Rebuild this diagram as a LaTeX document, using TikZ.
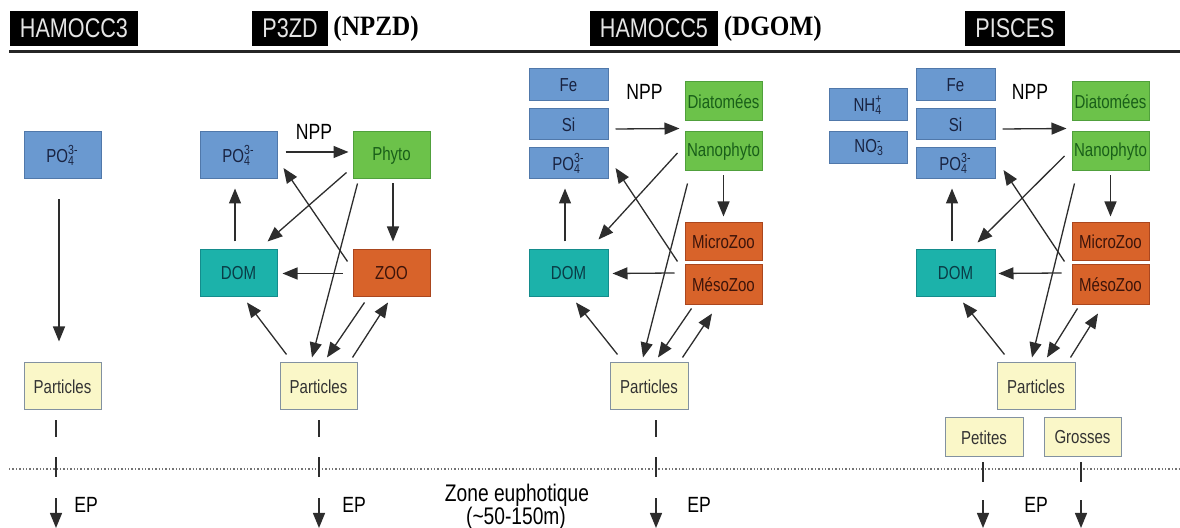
\documentclass[tikz,border=0pt]{standalone}
\usepackage{fontspec}
\setmainfont{Liberation Sans}[FakeStretch=0.8]
\newfontfamily\serifb{Liberation Serif}[FakeStretch=0.9]
\usetikzlibrary{arrows.meta,calc}
\definecolor{cblue}{RGB}{106,153,208}
\definecolor{cblueD}{RGB}{80,120,170}
\definecolor{cblueT}{RGB}{25,35,65}
\definecolor{cgreen}{RGB}{108,194,74}
\definecolor{cgreenD}{RGB}{80,160,60}
\definecolor{cgreenT}{RGB}{25,95,25}
\definecolor{cteal}{RGB}{28,178,170}
\definecolor{ctealD}{RGB}{20,140,140}
\definecolor{ctealT}{RGB}{10,60,70}
\definecolor{corange}{RGB}{216,99,42}
\definecolor{corangeD}{RGB}{170,70,30}
\definecolor{corangeT}{RGB}{60,20,10}
\definecolor{cyel}{RGB}{250,247,200}
\definecolor{cyelD}{RGB}{130,145,160}
\definecolor{carr}{RGB}{45,45,45}
\newcommand\chemss[2]{\rlap{\textsubscript{#1}}\textsuperscript{#2}}
\begin{document}
\begin{tikzpicture}[x=0.5pt,y=-0.5pt,
  sz/.style 2 args={minimum width=#1*0.5pt, minimum height=#2*0.5pt},
  box/.style={draw, line width=0.5pt, inner sep=0pt, font=\fontsize{9.4}{11}\selectfont, align=center},
  bbox/.style={box, fill=cblue, draw=cblueD, text=cblueT},
  gbox/.style={box, fill=cgreen, draw=cgreenD, text=cgreenT},
  tbox/.style={box, fill=cteal, draw=ctealD, text=ctealT},
  obox/.style={box, fill=corange, draw=corangeD, text=corangeT},
  ybox/.style={box, fill=cyel, draw=cyelD, text=black!80},
  hdr/.style={fill=black, text=white!90!black, font=\fontsize{13.5}{16}\selectfont, minimum height=17.5pt, inner xsep=5pt, inner ysep=0pt},
  hsub/.style={font=\serifb\bfseries\fontsize{14}{16}\selectfont, inner sep=0pt, anchor=west},
  lbl/.style={font=\fontsize{11}{13}\selectfont, inner sep=0pt},
  ar/.style={draw=carr, line width=0.65pt, -{Triangle[length=7.5pt,width=6pt]}},
  ln/.style={draw=carr, line width=0.65pt}
]
\useasboundingbox (0,0) rectangle (1180,528);

% headers
\node[hdr] (h1) at (74,28.5) {HAMOCC3};
\node[hdr] (h2) at (290,28.5) {P3ZD};
\node[hsub] (h2b) at ($(h2.east)+(5,0)$) {(NPZD)};
\node[hdr] (h3) at (654,28.5) {HAMOCC5};
\node[hsub] (h3b) at ($(h3.east)+(5,0)$) {(DGOM)};
\node[hdr] (h4) at (1015,28.5) {PISCES};
\coordinate (tl) at (9,52);
\coordinate (tr) at (1180,52);
\draw[line width=1.5pt, black!85] (tl) -- (tr);

% dotted line
\coordinate (dl) at (9,469);
\coordinate (dr) at (1180,469);
\draw[gray!90!black, line width=0.7pt, densely dotted] (dl) -- (dr);

% ---------- column 1 : HAMOCC3
\node[bbox, sz={77}{47}] (po1) at (62.5,155.5) {PO\chemss{4}{3-}};
\node[ybox, sz={77}{47}] (par1) at (62.5,386.5) {Particles};
\draw[ar] ($(po1.south)+(-3.5,20)$) -- ($(par1.north)+(-3.5,-21)$);

% ---------- column 2 : P3ZD
\node[bbox, sz={77}{47}] (po2) at (238.5,155.5) {PO\chemss{4}{3-}};
\node[gbox, sz={77}{47}] (phy) at (391.5,155.5) {Phyto};
\node[tbox, sz={77}{47}] (dom2) at (238.5,273.5) {DOM};
\node[obox, sz={77}{47}] (zoo) at (391.5,273.5) {ZOO};
\node[ybox, sz={77}{47}] (par2) at (318.5,386.5) {Particles};
\node[lbl] (npp2) at (314,132) {NPP};
\draw[ar] ($(po2.east)+(8,-3.5)$) -- ($(phy.west)+(-4,-3.5)$);
\draw[ar] ($(dom2.north)+(-3.5,-8)$) -- ($(po2.south)+(-3.5,9)$);
\draw[ar] ($(zoo.west)+(-10,0)$) -- ($(dom2.east)+(5,0)$);
\draw[ar] ($(phy.south)+(1.5,4)$) -- ($(zoo.north)+(1.5,-8)$);
\draw[ar] ($(phy.south west)+(-6,-7)$) -- ($(dom2.north east)+(-10,-8)$);
\draw[ar] ($(zoo.north west)+(-5,12)$) -- ($(po2.east)+(6,12.5)$);
\draw[ar] ($(phy.south west)+(5,4)$) -- ($(par2.north)+(-6.5,-5)$);
\draw[ar] ($(par2.north west)+(7,-8)$) -- ($(dom2.south)+(8.5,5)$);
\draw[ar] ($(zoo.south west)+(12,5)$) -- ($(par2.north)+(8.5,-5)$);
\draw[ar] ($(par2.north east)+(-5,-5)$) -- ($(zoo.south)+(-3.5,5)$);

% ---------- column 3 : HAMOCC5
\node[bbox, sz={79}{32}] (fe3) at (568.5,85) {Fe};
\node[bbox, sz={79}{31}] (si3) at (568.5,124.5) {Si};
\node[bbox, sz={79}{31}] (po3) at (568.5,163.5) {PO\chemss{4}{3-}};
\node[gbox, sz={77}{39}] (dia3) at (723.5,101.5) {Diatomées};
\node[gbox, sz={77}{39}] (nan3) at (723.5,151.5) {Nanophyto};
\node[obox, sz={77}{38}] (mic3) at (723.5,242) {MicroZoo};
\node[obox, sz={77}{40}] (mes3) at (723.5,285) {MésoZoo};
\node[tbox, sz={79}{47}] (dom3) at (568.5,273.5) {DOM};
\node[ybox, sz={78}{47}] (par3) at (649,386.5) {Particles};
\node[lbl] (npp3) at (644.5,92) {NPP};
\draw[ar] ($(si3.east)+(7,4.5)$) -- ($(nan3.north west)+(-5,-3)$);
\draw[ar] ($(dom3.north)+(-3.5,-8)$) -- ($(po3.south)+(-3.5,9)$);
\draw[ar] ($(mes3.west)+(-10,-12)$) -- ($(dom3.east)+(4,0)$);
\draw[ar] ($(nan3.south)+(0,4)$) -- ($(mic3.north)+(0,-6)$);
\draw[ar] ($(nan3.west)+(-7,1.5)$) -- ($(dom3.north east)+(-10,-10)$);
\draw[ar] ($(mes3.north west)+(-7,-3)$) -- ($(po3.east)+(7,4.5)$);
\draw[ar] ($(nan3.south west)+(3,12)$) -- ($(par3.north)+(-6,-5)$);
\draw[ar] ($(par3.north west)+(8,-8)$) -- ($(dom3.south)+(7.5,5)$);
\draw[ar] ($(mes3.south west)+(7,3)$) -- ($(par3.north)+(9,-5)$);
\draw[ar] ($(par3.north east)+(-6,-5)$) -- ($(mes3.south)+(-11.5,8)$);

% ---------- column 4 : PISCES
\node[bbox, sz={78}{32}] (nh4) at (868,105) {NH\chemss{4}{+}};
\node[bbox, sz={78}{32}] (no3) at (868,148) {NO\chemss{3}{-}};
\node[bbox, sz={79}{32}] (fe4) at (955.5,85) {Fe};
\node[bbox, sz={79}{31}] (si4) at (955.5,124.5) {Si};
\node[bbox, sz={79}{31}] (po4) at (955.5,163.5) {PO\chemss{4}{3-}};
\node[gbox, sz={77}{39}] (dia4) at (1110.5,101.5) {Diatomées};
\node[gbox, sz={77}{39}] (nan4) at (1110.5,151.5) {Nanophyto};
\node[obox, sz={77}{38}] (mic4) at (1110.5,242) {MicroZoo};
\node[obox, sz={77}{40}] (mes4) at (1110.5,285) {MésoZoo};
\node[tbox, sz={79}{47}] (dom4) at (955.5,273.5) {DOM};
\node[ybox, sz={78}{47}] (par4) at (1036,386.5) {Particles};
\node[ybox, sz={78}{39}] (pet) at (984,437.5) {Petites};
\node[ybox, sz={77}{39}] (gro) at (1082.5,437.5) {Grosses};
\node[lbl] (npp4) at (1030,92) {NPP};
\draw[ar] ($(si4.east)+(7,4.5)$) -- ($(nan4.north west)+(-5,-3)$);
\draw[ar] ($(dom4.north)+(-3.5,-8)$) -- ($(po4.south)+(-3.5,9)$);
\draw[ar] ($(mes4.west)+(-10,-12)$) -- ($(dom4.east)+(3,0)$);
\draw[ar] ($(nan4.south)+(0,4)$) -- ($(mic4.north)+(0,-6)$);
\draw[ar] ($(nan4.west)+(-7,4.5)$) -- ($(dom4.north east)+(-18,-7)$);
\draw[ar] ($(mes4.north west)+(-7,-3)$) -- ($(po4.east)+(8,6.5)$);
\draw[ar] ($(nan4.south west)+(3,12)$) -- ($(par4.north)+(-4,-5)$);
\draw[ar] ($(par4.north west)+(8,-8)$) -- ($(dom4.south)+(7.5,5)$);
\draw[ar] ($(mes4.south west)+(6,3)$) -- ($(par4.north)+(11,-5)$);
\draw[ar] ($(par4.north east)+(-5,-5)$) -- ($(mes4.south)+(-12.5,8)$);

% ---------- export production
\coordinate (b1) at (56,528);
\coordinate (b2) at (319,528);
\coordinate (b3) at (656,528);
\coordinate (b4) at (983,528);
\coordinate (b5) at (1081,528);
\tikzset{epdash/.style={dash pattern=on 8.5pt off 10pt on 10pt off 10.5pt on 20pt}}
\draw[ar, epdash] ($(par1.south)+(-6.5,10)$) -- (b1);
\draw[ar, epdash] ($(par2.south)+(0.5,10)$) -- (b2);
\draw[ar, epdash] ($(par3.south)+(7,10)$) -- (b3);
\draw[ar, dash pattern=on 10pt off 9pt on 20pt] ($(pet.south)+(-1,5)$) -- (b4);
\draw[ar, dash pattern=on 10pt off 9pt on 20pt] ($(gro.south)+(-1.5,5)$) -- (b5);
\node[lbl] (ep1) at (86,505) {EP};
\node[lbl] (ep2) at (354,505) {EP};
\node[lbl] (ep3) at (699,505) {EP};
\node[lbl] (ep4) at (1036,505) {EP};
\node[font=\fontsize{12}{14}\selectfont, inner sep=0pt] (zone1) at (517,495) {Zone euphotique};
\node[font=\fontsize{12}{14}\selectfont, inner sep=0pt] (zone2) at (516,518) {(\textasciitilde 50-150m)};
\end{tikzpicture}
\end{document}
